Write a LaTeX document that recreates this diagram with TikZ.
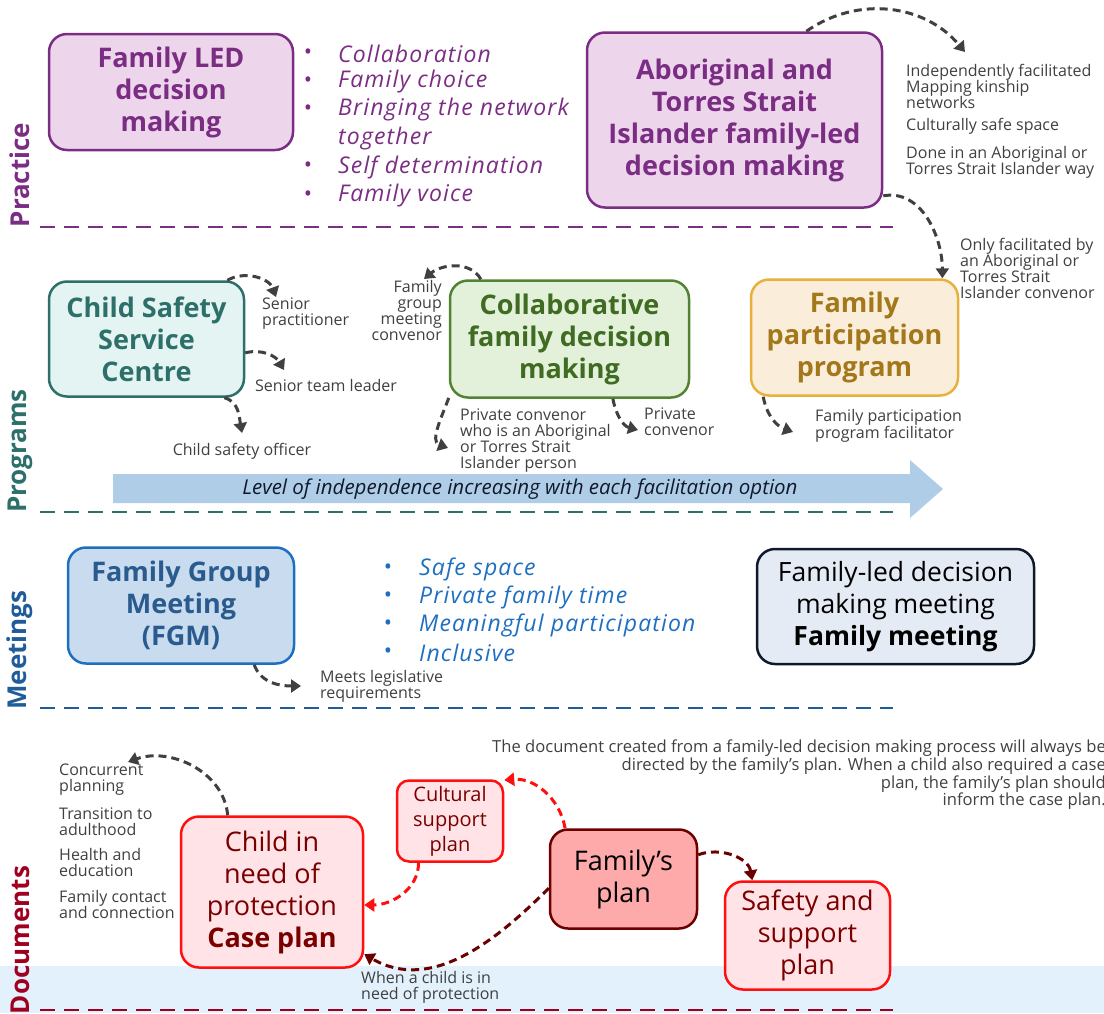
\documentclass[tikz,border=0pt]{standalone}
\usepackage{fontspec}
\setmainfont{Open Sans}
\newfontfamily\handfont{Open Sans}[LetterSpace=5]
\usetikzlibrary{arrows.meta}

\definecolor{purp}{HTML}{7B2D84}
\definecolor{purplt}{HTML}{EDD6EC}
\definecolor{teal}{HTML}{2D7069}
\definecolor{teallt}{HTML}{E3F4F3}
\definecolor{grn}{HTML}{548235}
\definecolor{grntxt}{HTML}{3F6B22}
\definecolor{grnlt}{HTML}{E4F1DA}
\definecolor{gold}{HTML}{E8B13E}
\definecolor{goldtxt}{HTML}{A3781A}
\definecolor{goldlt}{HTML}{FAEEDA}
\definecolor{blu}{HTML}{1F6FC0}
\definecolor{blutxt}{HTML}{2A5B8E}
\definecolor{blult}{HTML}{C9DCEF}
\definecolor{meetblu}{HTML}{1F5C99}
\definecolor{navy}{HTML}{0E1A2B}
\definecolor{navylt}{HTML}{E4EBF5}
\definecolor{rd}{HTML}{FF1010}
\definecolor{rdtxt}{HTML}{7A0000}
\definecolor{rdlt}{HTML}{FFE3E6}
\definecolor{famfill}{HTML}{FFAAAA}
\definecolor{dkred}{HTML}{6B0000}
\definecolor{docred}{HTML}{A00020}
\definecolor{band}{HTML}{E3F1FC}
\definecolor{levelblu}{HTML}{B0CDE8}
\definecolor{notegray}{HTML}{404040}

\begin{document}
\begin{tikzpicture}[x=1pt,y=1pt,
    box/.style={draw, rounded corners=18pt, line width=2.5pt, align=center, inner sep=0pt},
    head/.style={font=\fontsize{27}{32}\selectfont\bfseries},
    plain/.style={font=\fontsize{26.5}{32}\selectfont},
    note/.style={font=\fontsize{16}{16}\selectfont, text=notegray, inner sep=0pt, align=left},
    hand/.style={font=\fontsize{23}{23}\selectfont\handfont\itshape, inner sep=0pt, anchor=west},
    dot/.style={font=\fontsize{22}{22}\selectfont, inner sep=0pt},
    link/.style={-{Triangle[length=10pt,width=13pt]}, line width=3pt, dash pattern=on 8pt off 5pt, draw=notegray},
    sect/.style={line width=2pt, dash pattern=on 15pt off 9pt},
    tag/.style={rotate=90, font=\fontsize{26}{26}\selectfont\bfseries, inner sep=0pt}]

  \useasboundingbox (0,0) rectangle (1104,-1013);
  \fill[band] (0,-966) rectangle (1104,-1013);

  % section labels and rules
  \node[tag, text=purp] (practice) at (20,-175) {Practice};
  \node[tag, text=teal] (programs) at (20,-451) {Programs};
  \node[tag, text=meetblu] (meetings) at (20,-650) {Meetings};
  \node[tag, text=docred] (documents) at (20,-940) {Documents};
  \draw[sect, purp] (40,-227) -- (893,-227);
  \draw[sect, teal] (40,-512) -- (893,-512);
  \draw[sect, meetblu] (40,-708) -- (893,-708);
  \draw[sect, docred] (40,-1010) -- (893,-1010);

  % practice
  \node[box, head, draw=purp, fill=purplt, text=purp, minimum width=244pt, minimum height=116pt]
    (fled) at (171,-92) {Family LED\\decision\\making};
  \node[box, head, draw=purp, fill=purplt, text=purp, minimum width=295pt, minimum height=175pt]
    (atsi) at (734.5,-120) {Aboriginal and\\Torres Strait\\Islander family-led\\decision making};
  \foreach \t/\yy in {Collaboration/54, Family choice/82, Bringing the network/110,
                      Self determination/167, Family voice/196}{
    \node[dot, text=purp] at (308,-\yy) {\textbullet};
    \node[hand, text=purp] at (338,-\yy) {\t};
  }
  \node[hand, text=purp] (together) at (338,-139) {together};

  \node[note, anchor=west] (indep) at (906,-86) {Independently facilitated\\Mapping kinship\\networks};
  \node[note, anchor=west] (safe) at (906,-126) {Culturally safe space};
  \node[note, anchor=west] (done) at (906,-162) {Done in an Aboriginal or\\Torres Strait Islander way};
  \node[note, anchor=west] (only) at (960,-268.5) {Only facilitated by\\an Aboriginal or\\Torres Strait\\Islander convenor};

  % programs
  \node[box, head, draw=teal, fill=teallt, text=teal, minimum width=195pt, minimum height=115pt]
    (csc) at (146.5,-339) {Child Safety\\Service\\Centre};
  \node[box, head, draw=grn, fill=grnlt, text=grntxt, minimum width=239pt, minimum height=117pt]
    (cfdm) at (569.5,-339) {Collaborative\\family decision\\making};
  \node[box, head, draw=gold, fill=goldlt, text=goldtxt, minimum width=207pt, minimum height=116pt]
    (fpp) at (854.5,-337.5) {Family\\participation\\program};

  \node[note, anchor=west] (senprac) at (262,-313.5) {Senior\\practitioner};
  \node[note, anchor=west] (stl) at (255,-385) {Senior team leader};
  \node[note] (cso) at (242,-451) {Child safety officer};
  \node[note, anchor=east, align=right] (fgmc) at (442,-310) {Family\\group\\meeting\\convenor};
  \node[note, anchor=west] (pcasi) at (460,-441) {Private convenor\\who is an Aboriginal\\or Torres Strait\\Islander person};
  \node[note, anchor=west] (pc) at (644,-422) {Private\\convenor};
  \node[note, anchor=west] (fppf) at (815,-425.5) {Family participation\\program facilitator};

  \fill[levelblu] (113,-474) -- (910,-474) -- (910,-460) -- (943,-489) -- (910,-518)
    -- (910,-503) -- (113,-503) -- cycle;
  \node[font=\fontsize{20.5}{20.5}\selectfont\itshape, text=navy] (level) at (520,-489)
    {Level of independence increasing with each facilitation option};

  % meetings
  \node[box, head, draw=blu, fill=blult, text=blutxt, minimum width=226pt, minimum height=116pt]
    (fgm) at (181,-605.5) {Family Group\\Meeting\\(FGM)};
  \node[box, plain, draw=navy, fill=navylt, text=black, minimum width=277pt, minimum height=115pt]
    (fldm) at (895.5,-606.5) {Family-led decision\\making meeting\\\textbf{Family meeting}};
  \foreach \t/\yy in {Safe space/569, Private family time/597, Meaningful participation/625, Inclusive/653}{
    \node[dot, text=blu] at (388,-\yy) {\textbullet};
    \node[hand, text=blu] at (419,-\yy) {\t};
  }
  \node[note, anchor=west] (meets) at (320,-686.5) {Meets legislative\\requirements};

  % documents
  \node[box, plain, draw=rd, fill=rdlt, text=rdtxt, minimum width=182pt, minimum height=151pt,
    font=\fontsize{27}{32}\selectfont] (cinp) at (272,-892) {Child in\\need of\\protection\\\textbf{Case plan}};
  \node[box, draw=rd, fill=rdlt, text=rdtxt, minimum width=106pt, minimum height=81pt, rounded corners=12pt,
    font=\fontsize{20}{25}\selectfont] (cult) at (450,-821) {Cultural\\support\\plan};
  \node[box, plain, draw=dkred, fill=famfill, text=black, minimum width=147pt, minimum height=99pt,
    font=\fontsize{27}{32}\selectfont] (fam) at (623.5,-879) {Family’s\\plan};
  \node[box, plain, draw=rd, fill=rdlt, text=rdtxt, minimum width=165pt, minimum height=108pt,
    font=\fontsize{27}{32}\selectfont] (saf) at (807.5,-935.5) {Safety and\\support\\plan};

  \node[note, anchor=west] (concur) at (59,-779.5) {Concurrent\\planning};
  \node[note, anchor=west] (trans) at (59,-821.5) {Transition to\\adulthood};
  \node[note, anchor=west] (health) at (59,-862.5) {Health and\\education};
  \node[note, anchor=west] (contact) at (59,-904.5) {Family contact\\and connection};
  \node[note, anchor=west] (whenchild) at (361,-987.5) {When a child is in\\need of protection};
  \node[note, anchor=east, align=right, font=\fontsize{16.6}{16.4}\selectfont] (docnote) at (1106,-775)
    {The document created from a family-led decision making process will always be\\
     directed by the family’s plan. When a child also required a case\\
     plan, the family’s plan should\\inform the case plan.};

  % connectors
  \coordinate (indeptip) at (965,-52);
  \coordinate (sptip) at (276,-297);
  \coordinate (stltip) at (284,-370);
  \coordinate (csotip) at (242,-433);
  \coordinate (fgmctip) at (424,-279);
  \coordinate (pcasitip) at (448,-448);
  \coordinate (pctip) at (638,-430);
  \coordinate (fppftip) at (793,-432);
  \coordinate (meetstip) at (301,-686);
  \coordinate (concurtip) at (128,-762);

  \draw[link] (atsi.51) to[out=35,in=130] (indeptip);
  \draw[link] (atsi.-27) to[out=10,in=90] (fpp.34);
  \draw[link] (csc.36) to[out=30,in=110] (sptip);
  \draw[link] (csc.-8) to[out=15,in=120] (stltip);
  \draw[link] (csc.-37) to[out=-15,in=100] (csotip);
  \draw[link] (cfdm.146) to[out=120,in=40] (fgmctip);
  \draw[link] (cfdm.206) to[out=-110,in=160] (pcasitip);
  \draw[link] (cfdm.-54) to[out=-80,in=165] (pctip);
  \draw[link] (fpp.213) to[out=-80,in=160] (fppftip);
  \draw[link] (fgm.-39) to[out=-70,in=180] (meetstip);
  \draw[link] (cinp.120) to[out=95,in=20] (concurtip);
  \draw[link, draw=rd] (cult.233) to[out=-90,in=0] (cinp.-8);
  \draw[link, draw=rd] (fam.139) to[out=100,in=5] (cult.37);
  \draw[link, draw=dkred] (fam.18) to[out=20,in=100] (saf.135);
  \draw[link, draw=dkred] (fam.187) to[out=-135,in=-30] (cinp.-34);
\end{tikzpicture}
\end{document}
